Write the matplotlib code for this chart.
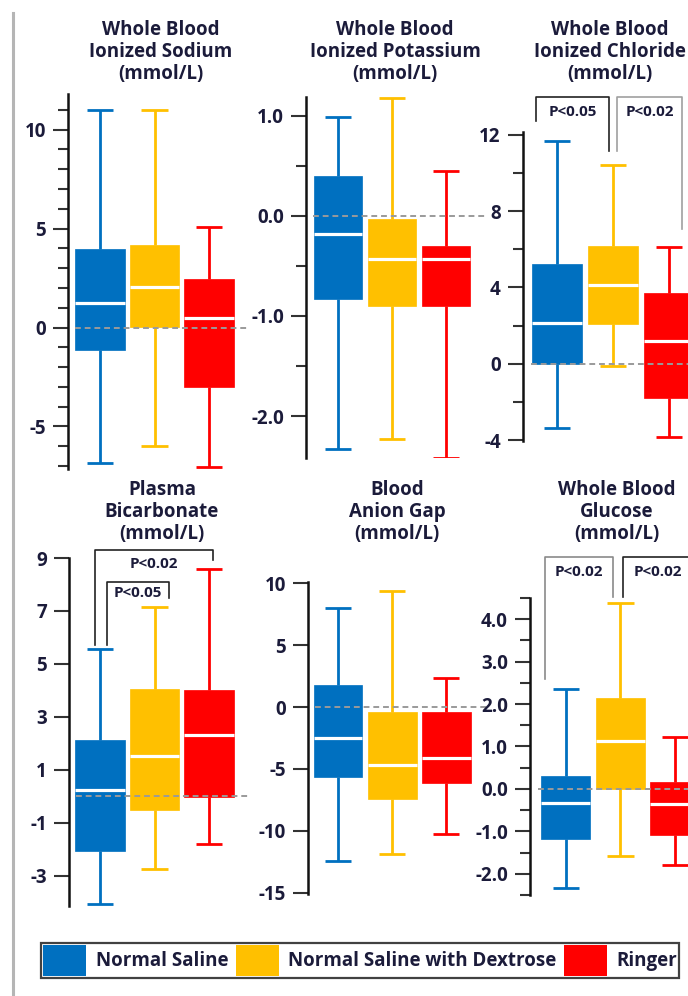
import matplotlib
matplotlib.use('Agg')
import matplotlib.pyplot as plt
from matplotlib.patches import Patch
from matplotlib.lines import Line2D
from matplotlib.ticker import FixedLocator, MultipleLocator

plt.rcParams['font.family'] = ['Open Sans', 'DejaVu Sans']
plt.rcParams['font.weight'] = 'bold'
plt.rcParams['axes.unicode_minus'] = False

TXT = '#1b1b3a'
groups = ['Normal Saline', 'Normal Saline with Dextrose', 'Ringer']
colors = ['#0070C0', '#FFC000', '#FF0000']

# five-number summaries: whisker low, Q1, median, Q3, whisker high
sodium_ns = [-6.85, -1.12, 1.26, 3.95, 11.0]
sodium_nsd = [-5.98, 0.05, 2.06, 4.15, 11.0]
sodium_r = [-7.07, -3.02, 0.47, 2.46, 5.06]

potassium_ns = [-2.33, -0.83, -0.18, 0.40, 0.99]
potassium_nsd = [-2.23, -0.90, -0.43, -0.03, 1.18]
potassium_r = [-2.42, -0.90, -0.43, -0.30, 0.45]

chloride_ns = [-3.37, 0.0, 2.16, 5.23, 11.7]
chloride_nsd = [-0.1, 2.09, 4.13, 6.19, 10.4]
chloride_r = [-3.84, -1.8, 1.17, 3.7, 6.1]

bicarb_ns = [-4.09, -2.07, 0.25, 2.14, 5.55]
bicarb_nsd = [-2.77, -0.51, 1.50, 4.06, 7.13]
bicarb_r = [-1.8, -0.05, 2.30, 4.0, 8.59]

aniongap_ns = [-12.4, -5.66, -2.47, 1.81, 8.03]
aniongap_nsd = [-11.9, -7.46, -4.71, -0.40, 9.38]
aniongap_r = [-10.23, -6.11, -4.09, -0.40, 2.35]

glucose_ns = [-2.34, -1.18, -0.34, 0.31, 2.35]
glucose_nsd = [-1.59, 0.0, 1.14, 2.15, 4.38]
glucose_r = [-1.79, -1.08, -0.36, 0.16, 1.22]

titles = ['Whole Blood\nIonized Sodium\n(mmol/L)',
          'Whole Blood\nIonized Potassium\n(mmol/L)',
          'Whole Blood\nIonized Chloride\n(mmol/L)',
          'Plasma\nBicarbonate\n(mmol/L)',
          'Blood\nAnion Gap\n(mmol/L)',
          'Whole Blood\nGlucose\n(mmol/L)']

ticks = [[-5, 0, 5, 10],
         [-2.0, -1.0, 0.0, 1.0],
         [-4, 0, 4, 8, 12],
         [-3, -1, 1, 3, 5, 7, 9],
         [-15, -10, -5, 0, 5, 10],
         [-2.0, -1.0, 0.0, 1.0, 2.0, 3.0, 4.0]]
tick_labels = [['-5', '0', '5', '10'],
               ['-2.0', '-1.0', '0.0', '1.0'],
               ['-4', '0', '4', '8', '12'],
               ['-3', '-1', '1', '3', '5', '7', '9'],
               ['-15', '-10', '-5', '0', '5', '10'],
               ['-2.0', '-1.0', '0.0', '1.0', '2.0', '3.0', '4.0']]
minor_step = [1, 0.5, 2, None, None, 0.5]
ylims = [(-7.15, 11.8), (-2.42, 1.19), (-4.05, 12.15),
         (-4.15, 9.0), (-15.1, 10.1), (-2.5, 4.5)]

# significance brackets: x left, x right, y top, y left end, y right end, label, colour, label y
brackets = [
    [],
    [],
    [(0.625, 1.93, 14.0, 12.74, 11.17, 'P<0.05', '#222222', 13.2),
     (2.07, 3.23, 14.0, 11.17, 7.07, 'P<0.02', '#a0a0a0', 13.2)],
    [(0.91, 3.07, 9.29, 5.70, 8.92, 'P<0.02', '#222222', 8.76),
     (1.12, 2.27, 8.09, 5.70, 7.48, 'P<0.05', '#222222', 7.66)],
    [],
    [(0.62, 1.87, 5.47, 2.58, 4.52, 'P<0.02', '#8a8a8a', 5.11),
     (2.04, 3.34, 5.47, 4.52, 3.0, 'P<0.02', '#222222', 5.11)],
]

panel_stats = [[sodium_ns, sodium_nsd, sodium_r],
               [potassium_ns, potassium_nsd, potassium_r],
               [chloride_ns, chloride_nsd, chloride_r],
               [bicarb_ns, bicarb_nsd, bicarb_r],
               [aniongap_ns, aniongap_nsd, aniongap_r],
               [glucose_ns, glucose_nsd, glucose_r]]

# layout in pixels: left, top, width, height, first box centre, box spacing
layout = [(68, 94, 180, 375, 100, 54.5),
          (306, 97, 180, 361, 338, 54.0),
          (523, 132, 190, 309, 557, 56.0),
          (69, 558, 180, 348, 100, 54.5),
          (308, 582, 180, 312, 338, 54.2),
          (530, 598, 190, 297, 565.7, 54.7)]
title_pos = [(161, 52), (395, 52), (610, 52), (162, 512), (397, 512), (617, 512)]

W, H = 688, 996
fig = plt.figure(figsize=(W / 100, H / 100), dpi=100)

fig.add_artist(Line2D([13 / W, 13 / W], [0, 1 - 13 / H], color='#b5b5b5', lw=2.2))

for i in range(6):
    left, top, w, h, c1, sp = layout[i]
    ax = fig.add_axes([left / W, 1 - (top + h) / H, w / W, h / H])
    xmin = 1 - (c1 - left) / sp
    ax.set_xlim(xmin, xmin + w / sp)
    ax.set_ylim(*ylims[i])

    stats = []
    for s, g in zip(panel_stats[i], groups):
        stats.append(dict(whislo=s[0], q1=s[1], med=s[2], q3=s[3], whishi=s[4], label=g))
    bp = ax.bxp(stats, positions=[1, 2, 3], widths=0.9, capwidths=0.48,
                patch_artist=True, showfliers=False,
                medianprops=dict(color='white', lw=2.3, zorder=4),
                whiskerprops=dict(lw=2.0), capprops=dict(lw=2.0))
    for k, c in enumerate(colors):
        bp['boxes'][k].set_facecolor(c)
        bp['boxes'][k].set_edgecolor(c)
        bp['boxes'][k].set_linewidth(0.5)
        bp['boxes'][k].set_zorder(3)
        for ln in bp['whiskers'][2 * k:2 * k + 2] + bp['caps'][2 * k:2 * k + 2]:
            ln.set_color(c)
            ln.set_solid_capstyle('butt')

    ax.axhline(0, xmin=0.04, xmax=1, color='#9a9a9a', ls=(0, (3, 2)), lw=1.4, zorder=5)

    for side in ['top', 'right', 'bottom']:
        ax.spines[side].set_visible(False)
    ax.spines['left'].set_linewidth(1.8)
    ax.spines['left'].set_color('#111111')
    ax.set_xticks([])
    ax.yaxis.set_major_locator(FixedLocator(ticks[i]))
    ax.set_yticklabels(tick_labels[i], fontsize=13.5, fontweight='bold', color=TXT)
    if minor_step[i]:
        ax.yaxis.set_minor_locator(MultipleLocator(minor_step[i]))
    ax.tick_params(axis='y', which='major', length=11, width=1.5, color='#333333', pad=5)
    ax.tick_params(axis='y', which='minor', length=7.5, width=1.5, color='#333333')
    ax.patch.set_visible(False)

    for x0, x1, yt, y0, y1, lab, col, ly in brackets[i]:
        ax.plot([x0, x0, x1, x1], [y0, yt, yt, y1], color=col, lw=1.2, clip_on=False, zorder=6)
        ax.text((x0 + x1) / 2, ly, lab, ha='center', va='center', fontsize=11,
                fontweight='bold', color=TXT, clip_on=False)

    tx, ty = title_pos[i]
    fig.text(tx / W, 1 - ty / H, titles[i], ha='center', va='center', fontsize=13.5,
             fontweight='bold', color=TXT, linespacing=1.15)

handles = [Patch(facecolor=c, edgecolor='none') for c in colors]
leg = fig.legend(handles, groups, ncol=3, loc='center',
                 bbox_to_anchor=(360 / W, 1 - 960.5 / H),
                 frameon=True, fancybox=False, edgecolor='#111111',
                 handlelength=2.3, handleheight=2.2, handletextpad=0.5,
                 columnspacing=0.4, borderpad=0.12, borderaxespad=0,
                 prop=dict(size=13.5, weight='bold'))
leg.get_frame().set_linewidth(1.6)
for t in leg.get_texts():
    t.set_color(TXT)

fig.savefig('out.png', dpi=100, facecolor='white')
